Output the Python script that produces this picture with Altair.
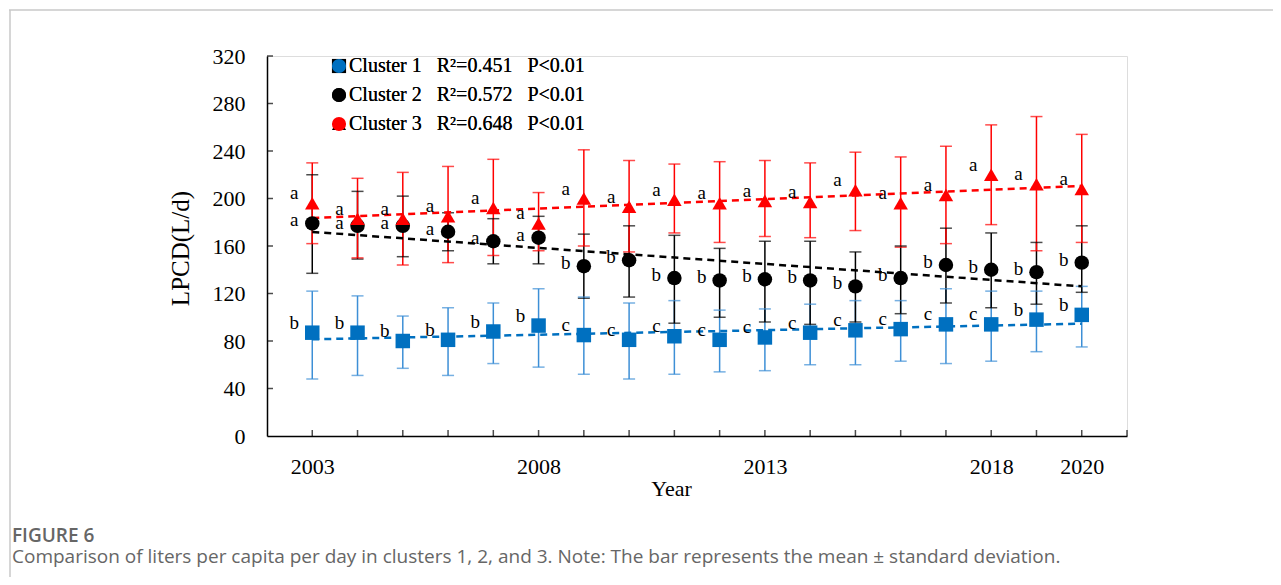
import altair as alt
import pandas as pd

# ---------------- data ----------------
years = list(range(2003, 2021))
clusters = ["Cluster 1", "Cluster 2", "Cluster 3"]
r2_text = ["0.451", "0.572", "0.648"]
p_text = ["P<0.01", "P<0.01", "P<0.01"]

c1_mean = [87, 87, 80, 81, 88, 93, 85, 81, 84, 81, 83, 87, 89, 90, 94, 94, 98, 102]
c1_lo = [48, 51, 57, 51, 61, 58, 52, 48, 52, 54, 55, 60, 60, 63, 61, 63, 71, 75]
c1_hi = [122, 118, 101, 108, 112, 124, 117, 112, 114, 106, 107, 111, 114, 114, 124, 122, 122, 126]
c1_letters = ["b"] * 6 + ["c"] * 10 + ["b"] * 2

c2_mean = [179, 177, 177, 172, 164, 167, 143, 148, 133, 131, 132, 131, 126, 133, 144, 140, 138, 146]
c2_lo = [137, 149, 151, 156, 145, 145, 116, 117, 95, 100, 96, 94, 96, 103, 112, 108, 111, 121]
c2_hi = [220, 206, 202, 188, 183, 185, 170, 177, 169, 158, 164, 164, 155, 160, 175, 171, 163, 177]
c2_letters = ["a"] * 6 + ["b"] * 12

c3_mean = [196, 183, 183, 185, 192, 179, 200, 193, 199, 196, 198, 197, 207, 196, 203, 220, 212, 208]
c3_lo = [162, 150, 144, 146, 152, 156, 160, 155, 171, 163, 168, 167, 173, 159, 162, 178, 156, 163]
c3_hi = [230, 217, 222, 227, 233, 205, 241, 232, 229, 231, 232, 230, 239, 235, 244, 262, 269, 254]
c3_letters = ["a"] * 18

x_label_years = [2003, 2008, 2013, 2018, 2020]
x_tick_years = list(range(2003, 2022))
y_tick_values = list(range(40, 321, 40))

caption_head = "FIGURE 6"
caption_text = ("Comparison of liters per capita per day in clusters 1, 2, and 3. "
                "Note: The bar represents the mean \u00b1 standard deviation.")

# ---------------- table ----------------
rows = []
for name, m, lo, hi, let in [
    (clusters[0], c1_mean, c1_lo, c1_hi, c1_letters),
    (clusters[1], c2_mean, c2_lo, c2_hi, c2_letters),
    (clusters[2], c3_mean, c3_lo, c3_hi, c3_letters),
]:
    for i, yr in enumerate(years):
        rows.append({"year": yr, "cluster": name, "mean": m[i], "lo": lo[i],
                     "hi": hi[i], "letter": let[i]})
df = pd.DataFrame(rows)

marker_colors = ["#0070C0", "#000000", "#FF0000"]
bar_colors = ["#3D8FD6", "#000000", "#FF0000"]
shapes = ["square", "circle", "triangle-up"]
SERIF = "Liberation Serif"

GAP = "\u2002 "
label_expr = " : ".join(
    f"datum.label == '{c}' ? '{c}{GAP}R\u00b2={r}{GAP}{p}'" for c, r, p in zip(clusters, r2_text, p_text)
) + " : datum.label"

xscale = alt.Scale(domain=[2002, 2021], nice=False, zero=False)
yscale = alt.Scale(domain=[0, 320], nice=False)

xaxis = alt.Axis(values=x_label_years, format="d", ticks=False, grid=False,
                 labelPadding=20, labelFontSize=22, labelFont=SERIF, labelColor="black",
                 domainColor="black", domainWidth=1.5,
                 title="Year", titleFont=SERIF, titleFontSize=22, titleFontWeight="normal",
                 titleColor="black", titleX=404, titleY=52, titleBaseline="middle")
yaxis = alt.Axis(values=list(range(0, 321, 40)), ticks=False, grid=False,
                 labelPadding=22, labelFontSize=22, labelFont=SERIF, labelColor="black",
                 domainColor="black", domainWidth=1.5,
                 title="LPCD(L/d)", titleFont=SERIF, titleFontSize=25, titleFontWeight="normal",
                 titleColor="black", titleX=-87, titleY=192, titleAngle=-90,
                 titleBaseline="middle", titleAlign="center")

X = alt.X("year:Q", scale=xscale, axis=xaxis)


def Y(field):
    return alt.Y(f"{field}:Q", scale=yscale, axis=yaxis)


base = alt.Chart(df)

bar_scale = alt.Scale(domain=clusters, range=bar_colors)
err_rule = base.mark_rule(strokeWidth=1.5).encode(
    x=X, y=Y("lo"), y2="hi:Q", stroke=alt.Stroke("cluster:N", scale=bar_scale, legend=None))
cap_lo = base.mark_tick(orient="horizontal", size=12, thickness=1.5).encode(
    x=X, y=Y("lo"), color=alt.Color("cluster:N", scale=bar_scale, legend=None))
cap_hi = base.mark_tick(orient="horizontal", size=12, thickness=1.5).encode(
    x=X, y=Y("hi"), color=alt.Color("cluster:N", scale=bar_scale, legend=None))

bars = alt.layer(err_rule, cap_lo, cap_hi).resolve_scale(color="independent", stroke="independent")

trend = base.transform_regression("year", "mean", groupby=["cluster"], extent=[2003, 2020]).mark_line(
    strokeDash=[7, 5], strokeWidth=2.5
).encode(x=X, y=Y("mean"),
         stroke=alt.Stroke("cluster:N", scale=alt.Scale(domain=clusters, range=marker_colors), legend=None))

legend = alt.Legend(orient="none", legendX=62, legendY=0, title=None, labelFont=SERIF,
                    labelFontSize=20, labelColor="black", labelExpr=label_expr, labelLimit=600,
                    symbolSize=200, symbolStrokeWidth=0, rowPadding=9, padding=0, labelOffset=0)

points = base.mark_point(filled=True, size=210, opacity=1).encode(
    x=X, y=Y("mean"),
    color=alt.Color("cluster:N", scale=alt.Scale(domain=clusters, range=marker_colors), legend=legend),
    shape=alt.Shape("cluster:N", scale=alt.Scale(domain=clusters, range=shapes), legend=legend),
)

letter_layers = []
for c, dy in zip(clusters, [-10, -3, -10]):
    letter_layers.append(
        base.transform_filter(alt.datum.cluster == c).mark_text(
            font=SERIF, fontSize=19, dx=-18, dy=dy, color="black"
        ).encode(x=X, y=Y("mean"), text="letter:N")
    )

xt = pd.DataFrame({"year": x_tick_years})
yt = pd.DataFrame({"v": y_tick_values})
xticks = alt.Chart(xt).mark_tick(orient="vertical", size=6, thickness=1.5, color="black", yOffset=-3).encode(
    x=X, y=alt.Y(datum=0, scale=yscale, axis=yaxis))
yticks = alt.Chart(yt).mark_tick(orient="horizontal", size=6, thickness=1.5, color="black", xOffset=3).encode(
    x=alt.X(datum=2002, scale=xscale, axis=xaxis), y=alt.Y("v:Q", scale=yscale, axis=yaxis))

one = pd.DataFrame({"head": [caption_head], "body": [caption_text]})
frame_v = alt.Chart(one).mark_rule(color="#c8c8c8", strokeWidth=1.5).encode(
    x=alt.value(-257), y=alt.value(-46), y2=alt.value(521))
frame_h = alt.Chart(one).mark_rule(color="#c8c8c8", strokeWidth=1.5).encode(
    x=alt.value(-258), x2=alt.value(1006), y=alt.value(-46))
cap_head = alt.Chart(one).mark_text(
    font="Open Sans", fontSize=19, fontWeight=600, color="#666666", align="left", baseline="middle"
).encode(text="head:N", x=alt.value(-255), y=alt.value(480))
cap_body = alt.Chart(one).mark_text(
    font="Open Sans", fontSize=19, color="#666666", align="left", baseline="middle"
).encode(text="body:N", x=alt.value(-255), y=alt.value(501))

chart = alt.layer(
    frame_v, frame_h, bars, trend, points, *letter_layers, xticks, yticks, cap_head, cap_body
).resolve_scale(stroke="independent", color="independent").properties(
    width=860, height=380,
    autosize=alt.AutoSizeParams(type="none"),
    padding={"left": 259, "top": 48, "right": 146, "bottom": 141},
).configure_view(stroke=None).configure(background="white")

chart.save("out.html", embed_options={"renderer": "svg", "actions": False})
